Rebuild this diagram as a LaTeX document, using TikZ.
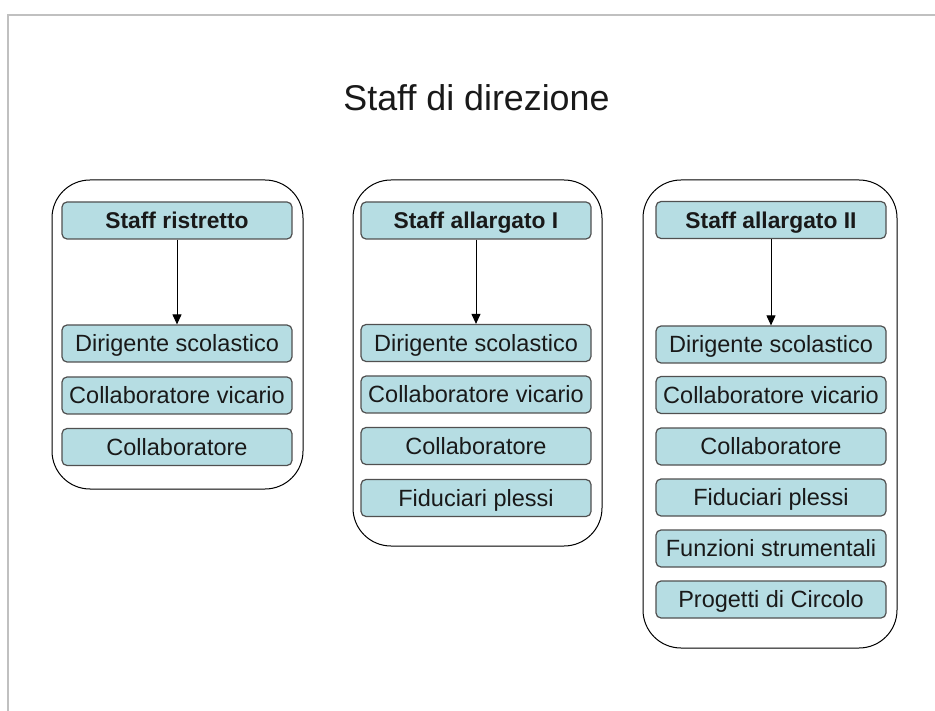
\documentclass[tikz,border=0pt]{standalone}
\usepackage{fontspec}
\setmainfont{Liberation Sans}
\usetikzlibrary{arrows.meta}
\definecolor{boxfill}{HTML}{B6DDE3}
\definecolor{boxline}{HTML}{505050}
\definecolor{frame}{HTML}{C0C0C0}
\tikzset{
  itembox/.style={draw=boxline, line width=1.2pt, fill=boxfill, rounded corners=5pt,
    minimum width=230pt, minimum height=37pt, inner sep=0pt,
    text height=16.8pt, text depth=0pt,
    font=\fontsize{23.5}{27}\selectfont, text=black!90},
  headbox/.style={itembox, font=\fontsize{22.8}{27}\selectfont\bfseries},
  outerbox/.style={draw=black, line width=1pt, rounded corners=38pt, inner sep=0pt},
  link/.style={draw=black, line width=1pt, -{Triangle[length=10pt,width=9pt]}}
}
\begin{document}
\begin{tikzpicture}[x=1pt,y=-1pt]
\useasboundingbox (0,0) rectangle (935,711);
\draw[frame, line width=2.5pt] (8,711) -- (8,15) -- (935,15);
\node[font=\fontsize{35.8}{40}\selectfont, text=black!90, anchor=base] (title) at (476.5,111) {Staff di direzione};

% outer boxes
\node[outerbox, minimum width=251pt, minimum height=309pt] (o1) at (177.5,334.5) {};
\node[outerbox, minimum width=249pt, minimum height=366pt] (o2) at (477.5,363) {};
\node[outerbox, minimum width=254pt, minimum height=468pt] (o3) at (770,414) {};

% column 1
\node[headbox] (h1) at (177,220.5) {Staff ristretto};
\node[itembox] (a1) at (177,343.5) {Dirigente scolastico};
\node[itembox] (a2) at (177,395.5) {Collaboratore vicario};
\node[itembox] (a3) at (177,447) {Collaboratore};
\draw[link] (h1) -- (a1);

% column 2
\node[headbox] (h2) at (476,220.5) {Staff allargato I};
\node[itembox] (b1) at (476,343) {Dirigente scolastico};
\node[itembox] (b2) at (476,394.5) {Collaboratore vicario};
\node[itembox] (b3) at (476,446) {Collaboratore};
\node[itembox] (b4) at (476,498) {Fiduciari plessi};
\draw[link] (h2) -- (b1);

% column 3
\node[headbox] (h3) at (771,220) {Staff allargato II};
\node[itembox] (c1) at (771,344.5) {Dirigente scolastico};
\node[itembox] (c2) at (771,395) {Collaboratore vicario};
\node[itembox] (c3) at (771,446.5) {Collaboratore};
\node[itembox] (c4) at (771,497.5) {Fiduciari plessi};
\node[itembox] (c5) at (771,548.5) {Funzioni strumentali};
\node[itembox] (c6) at (771,599.5) {Progetti di Circolo};
\draw[link] (h3) -- (c1);
\end{tikzpicture}
\end{document}
